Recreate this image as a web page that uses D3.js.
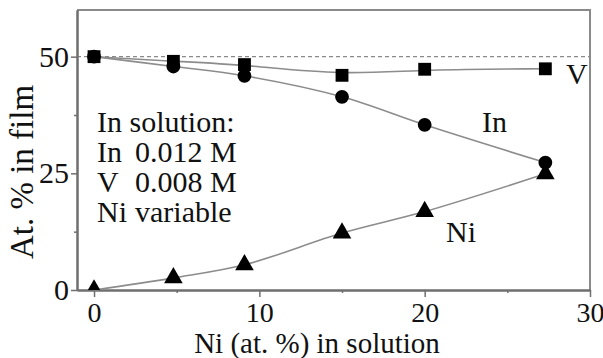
<!DOCTYPE html>
<html>
<head>
<meta charset="utf-8">
<script src="https://cdn.jsdelivr.net/npm/d3@7/dist/d3.min.js"></script>
<style>
  html, body { margin: 0; padding: 0; background: #fff; }
  svg text { font-family: 'Liberation Serif', 'Times New Roman', serif; }
</style>
</head>
<body>
<svg id="chart" width="603" height="358"></svg>
<script>
// Ni content in solution (at. %)
const niSolution = [0, 4.8, 9.1, 15, 20, 27.3];
// Film composition (at. %)
const vFilm  = [50, 49.0, 48.3, 46.0, 47.3, 47.4];
const inFilm = [50, 47.9, 45.9, 41.4, 35.4, 27.3];
const niFilm = [0, 2.6, 5.4, 12.2, 16.8, 24.9];

const xMajorTicks = [0, 10, 20, 30];
const xMinorTicks = [5, 15, 25];
const yMajorTicks = [0, 25, 50];
const yMinorTicks = [12.5, 37.5];
const equalLevel = 50;

const legendLines = [
  ["In solution:", ""],
  ["In", "0.012 M"],
  ["V", "0.008 M"],
  ["Ni", "variable"]
];

const svg = d3.select("#chart");
const plotLeft = 77, plotRight = 590, plotTop = 10, plotBottom = 290;

const x = d3.scaleLinear().domain([-1.03, 30]).range([plotLeft, plotRight]);
const y = d3.scaleLinear().domain([0, 60]).range([plotBottom, plotTop]);

const axisColor = "#6f6f6f";
const lineColor = "#8c8c8c";

// clip so markers sitting on an axis are cut by it
svg.append("defs").append("clipPath").attr("id", "plotClip")
  .append("rect").attr("x", plotLeft).attr("y", plotTop)
  .attr("width", plotRight - plotLeft).attr("height", plotBottom - plotTop);

// dotted reference level at 50 %
svg.append("line")
  .attr("x1", plotLeft).attr("x2", plotRight)
  .attr("y1", y(equalLevel)).attr("y2", y(equalLevel))
  .attr("stroke", "#8a8a8a").attr("stroke-width", 1.3)
  .attr("stroke-dasharray", "4,3");

// frame: top and right borders
svg.append("path")
  .attr("d", `M${plotLeft},${plotTop}H${plotRight}V${plotBottom}`)
  .attr("fill", "none").attr("stroke", "#8a8a8a").attr("stroke-width", 2);

// axes
function styleAxis(g) {
  g.attr("font-family", null);
  g.select(".domain").attr("stroke", axisColor).attr("stroke-width", 2);
  g.selectAll(".tick line").attr("stroke", axisColor).attr("stroke-width", 1.5);
  g.selectAll("text").attr("fill", "#111").attr("font-size", 28);
}

const gx = svg.append("g").attr("transform", `translate(0,${plotBottom})`)
  .call(d3.axisBottom(x).tickValues(xMajorTicks).tickSize(7).tickSizeOuter(0).tickPadding(5).tickFormat(d3.format("d")));
styleAxis(gx);
gx.selectAll("text").attr("dy", "0.71em");

const gxm = svg.append("g").attr("transform", `translate(0,${plotBottom})`)
  .call(d3.axisBottom(x).tickValues(xMinorTicks).tickSize(3).tickSizeOuter(0).tickFormat(""));
styleAxis(gxm);

const gy = svg.append("g").attr("transform", `translate(${plotLeft},0)`)
  .call(d3.axisLeft(y).tickValues(yMajorTicks).tickSize(6).tickSizeOuter(0).tickPadding(2).tickFormat(d3.format("d")));
styleAxis(gy);
gy.selectAll("text").attr("font-size", 30);

const gym = svg.append("g").attr("transform", `translate(${plotLeft},0)`)
  .call(d3.axisLeft(y).tickValues(yMinorTicks).tickSize(3).tickSizeOuter(0).tickFormat(""));
styleAxis(gym);

// axis titles
svg.append("text")
  .attr("x", 317).attr("y", 353)
  .attr("text-anchor", "middle").attr("font-size", 29).attr("fill", "#111")
  .text("Ni (at. %) in solution");

svg.append("text")
  .attr("transform", `translate(33,172) rotate(-90)`)
  .attr("text-anchor", "middle").attr("font-size", 33).attr("fill", "#111")
  .text("At. % in film");

// fitted curves
const series = [
  { name: "V",  values: vFilm,  curve: d3.curveBasis },
  { name: "In", values: inFilm, curve: d3.curveCatmullRom.alpha(0.5) },
  { name: "Ni", values: niFilm, curve: d3.curveCatmullRom.alpha(0.5) }
];

series.forEach(s => {
  const line = d3.line()
    .x((d, i) => x(niSolution[i]))
    .y(d => y(d))
    .curve(s.curve);
  svg.append("path")
    .datum(s.values)
    .attr("d", line)
    .attr("fill", "none")
    .attr("stroke", lineColor)
    .attr("stroke-width", 1.6);
});

// markers
const markers = svg.append("g").attr("clip-path", "url(#plotClip)");
const symbolFor = { V: d3.symbolSquare, In: d3.symbolCircle, Ni: d3.symbolTriangle };
const sizeFor = { V: 165, In: 150, Ni: 150 };
["In", "V", "Ni"].forEach(name => {
  const s = series.find(d => d.name === name);
  markers.selectAll(null)
    .data(s.values)
    .join("path")
    .attr("transform", (d, i) => `translate(${x(niSolution[i])},${y(d)})`)
    .attr("d", d3.symbol(symbolFor[name], sizeFor[name]))
    .attr("fill", "#000");
});

// series labels
const labels = [
  { text: "V",  x: 566, y: 84 },
  { text: "In", x: 482, y: 132 },
  { text: "Ni", x: 446, y: 242 }
];
svg.selectAll(".series-label")
  .data(labels)
  .join("text")
  .attr("class", "series-label")
  .attr("x", d => d.x).attr("y", d => d.y)
  .attr("font-size", 30).attr("fill", "#111")
  .text(d => d.text);

// solution composition note
const note = svg.append("g");
legendLines.forEach((row, i) => {
  const t = note.append("text")
    .attr("y", 132 + i * 30)
    .attr("font-size", 30).attr("fill", "#111");
  t.append("tspan").attr("x", 97).text(row[0]);
  if (row[1]) t.append("tspan").attr("x", 135).text(row[1]);
});
</script>
</body>
</html>
